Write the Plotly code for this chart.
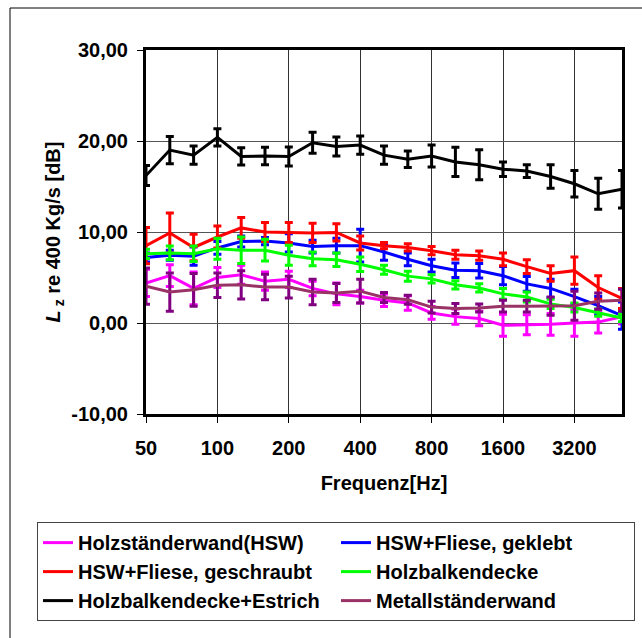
import plotly.graph_objects as go

freq = [50, 63, 80, 100, 125, 160, 200, 250, 315, 400, 500, 630, 800,
        1000, 1250, 1600, 2000, 2500, 3150, 4000, 5000]
x_tick_labels = ["50", "100", "200", "400", "800", "1600", "3200"]
x_tick_freqs = [50, 100, 200, 400, 800, 1600, 3150]
y_tick_vals = [-10, 0, 10, 20, 30]
y_tick_labels = ["-10,00", "0,00", "10,00", "20,00", "30,00"]

names = ["Holzständerwand(HSW)", "HSW+Fliese, geklebt", "HSW+Fliese, geschraubt",
         "Holzbalkendecke", "Holzbalkendecke+Estrich", "Metallständerwand"]

hsw = [4.4, 5.2, 3.8, 5.0, 5.3, 4.6, 4.8, 3.8, 3.2, 2.9, 2.5, 2.2, 1.1, 0.7,
       0.5, -0.25, -0.2, -0.15, 0.0, 0.1, 0.7]
hsw_err = [1.5, 1.2, 1.8, 1.1, 1.05, 1.0, 0.9, 0.8, 1.2, 0.7, 0.7, 0.8, 0.7,
           0.85, 0.8, 1.2, 1.1, 1.2, 1.45, 1.2, 0.8]

geklebt = [7.2, 7.45, 7.35, 8.25, 8.95, 9.0, 8.8, 8.4, 8.5, 8.5, 7.8, 7.0, 6.3,
           5.8, 5.75, 5.2, 4.3, 3.8, 2.9, 1.9, 0.8]
geklebt_err = [0.5, 0.55, 1.0, 0.7, 0.6, 0.4, 1.0, 0.7, 0.8, 1.8, 0.9, 0.7, 0.7,
               0.8, 0.8, 1.0, 0.8, 1.0, 0.8, 1.0, 1.5]

geschraubt = [8.5, 9.9, 8.3, 9.45, 10.45, 10.0, 9.95, 9.9, 9.95, 8.8, 8.5, 8.3,
              7.95, 7.5, 7.4, 7.0, 6.2, 5.45, 5.75, 3.9, 2.7]
geschraubt_err = [2.0, 2.2, 1.45, 1.2, 1.15, 1.05, 1.1, 1.05, 0.95, 0.77, 0.35,
                  0.4, 0.45, 0.5, 0.5, 0.7, 0.75, 0.85, 1.5, 1.3, 1.1]

hbd = [7.6, 7.7, 7.6, 8.15, 8.0, 8.0, 7.45, 7.05, 6.95, 6.45, 5.85, 5.15, 4.85,
       4.2, 3.85, 3.2, 2.85, 2.1, 1.7, 1.15, 0.55]
hbd_err = [0.5, 0.75, 0.85, 1.15, 1.45, 1.2, 1.1, 0.75, 0.75, 0.8, 0.5, 0.55,
           0.45, 0.45, 0.45, 0.6, 0.55, 0.5, 0.5, 0.4, 0.4]

estrich = [16.2, 19.0, 18.45, 20.4, 18.3, 18.35, 18.3, 19.8, 19.4, 19.55, 18.45,
           18.0, 18.35, 17.7, 17.4, 16.9, 16.7, 16.1, 15.3, 14.2, 14.7]
estrich_err = [1.1, 1.5, 1.0, 0.95, 0.95, 0.95, 1.05, 1.15, 1.05, 1.0, 1.0, 0.9,
               1.2, 1.6, 1.65, 0.8, 0.7, 1.3, 1.45, 1.7, 2.05]

metall = [4.05, 3.4, 3.65, 4.15, 4.2, 3.95, 3.95, 3.4, 3.3, 3.5, 2.8, 2.55, 1.75,
          1.6, 1.65, 1.85, 1.85, 1.85, 1.9, 2.4, 2.5]
metall_err = [2.0, 2.1, 1.8, 1.35, 1.55, 1.4, 1.2, 1.4, 1.05, 1.3, 0.55, 0.5,
              0.65, 0.55, 0.45, 0.65, 0.65, 1.0, 1.6, 0.9, 1.2]

series = [hsw, geklebt, geschraubt, hbd, estrich, metall]
errors = [hsw_err, geklebt_err, geschraubt_err, hbd_err, estrich_err, metall_err]
line_colors = ["#FF00FF", "#0000FF", "#FF0000", "#00FF00", "#000000", "#993366"]
err_colors = ["#FF00FF", "#0000FF", "#FF0000", "#00FF00", "#000000", "#800080"]

# category positions (third-octave bands equally spaced)
xpos = list(range(len(freq)))
x_tick_pos = [freq.index(f) for f in x_tick_freqs]

FONT = "Liberation Sans, Arial, sans-serif"

fig = go.Figure()
for name, ys, es, lc, ec in zip(names, series, errors, line_colors, err_colors):
    fig.add_trace(go.Scatter(
        x=xpos, y=ys, name=name, mode="lines",
        line=dict(color=lc, width=3),
        error_y=dict(type="data", array=es, visible=True, color=ec,
                     thickness=3, width=4),
    ))

fig.update_layout(
    width=642, height=638,
    margin=dict(l=146, r=20, t=50, b=224, pad=0),
    paper_bgcolor="white", plot_bgcolor="white",
    font=dict(family=FONT, size=20, color="black", weight="bold"),
    showlegend=True,
    legend=dict(
        orientation="h", x=-0.229, y=-0.297, xanchor="left", yanchor="top",
        entrywidth=253, entrywidthmode="pixels",
        bordercolor="#444444", borderwidth=1, bgcolor="white",
        font=dict(family=FONT, size=20, color="black", weight="bold"),
        tracegroupgap=0,
    ),
)

fig.update_xaxes(
    range=[0, len(freq) - 1],
    tickmode="array", tickvals=x_tick_pos, ticktext=x_tick_labels,
    ticks="outside", ticklen=6, tickwidth=1, tickcolor="black",
    ticklabelstandoff=8,
    showgrid=True, gridcolor="#333333", gridwidth=1,
    showline=True, linecolor="black", linewidth=3, mirror=True,
    zeroline=False,
    title=dict(text="Frequenz[Hz]", standoff=18,
               font=dict(family=FONT, size=20, color="black", weight="bold")),
    tickfont=dict(family=FONT, size=20, color="black", weight="bold"),
)
fig.update_yaxes(
    range=[-10, 30],
    tickmode="array", tickvals=y_tick_vals, ticktext=y_tick_labels,
    ticks="outside", ticklen=6, tickwidth=1, tickcolor="black",
    ticklabelstandoff=5,
    showgrid=True, gridcolor="#555555", gridwidth=1,
    showline=True, linecolor="black", linewidth=3, mirror=True,
    zeroline=False,
    title=dict(text="<i>L</i><sub> z</sub> re 400 Kg/s [dB]", standoff=6,
               font=dict(family=FONT, size=20, color="black", weight="bold")),
    tickfont=dict(family=FONT, size=20, color="black", weight="bold"),
)

# outer chart frame (left and top edges visible; right/bottom outside the canvas)
fig.add_shape(type="rect", xref="paper", yref="paper",
              x0=(10 - 146) / 476, x1=(700 - 146) / 476,
              y0=(414 - 700) / 364, y1=(414 - 8) / 364,
              line=dict(color="black", width=1), fillcolor="rgba(0,0,0,0)",
              layer="below")

fig.write_html("out.html")
